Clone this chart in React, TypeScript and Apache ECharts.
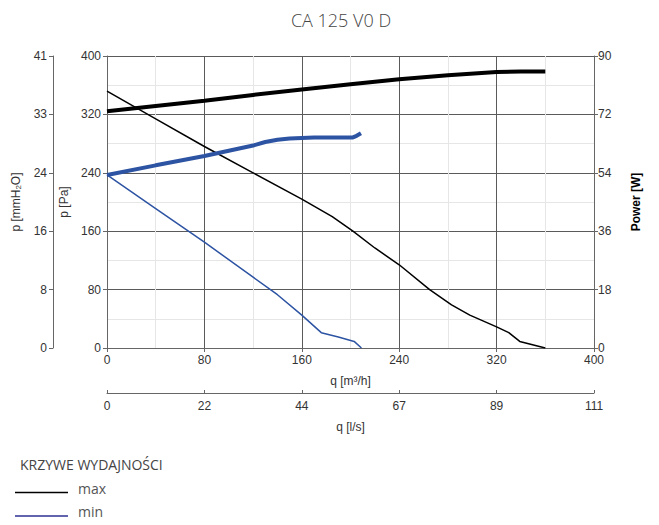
import React, { useEffect, useRef } from "react";
import * as echarts from "echarts";

const title = "CA 125 V0 D";
const legendTitle = "KRZYWE WYDAJNOŚCI";
const seriesNames = ["max", "min"];

// q [m3/h] vs p [Pa]
const maxPressure: [number, number][] = [
  [0, 352], [40, 314], [80, 276], [120, 240], [160, 204], [185, 180], [202, 160],
  [220, 137], [240, 114], [265, 80], [283, 59], [298, 45], [320, 29], [330, 21],
  [339, 9], [360, 0],
];
const minPressure: [number, number][] = [
  [0, 237], [40, 191], [80, 145], [120, 97], [140, 73], [160, 45], [176, 21],
  [190, 15], [203, 9], [209, 0],
];
// q [m3/h] vs Power [W]
const maxPower: [number, number][] = [
  [0, 73], [40, 74.6], [80, 76.2], [120, 78], [160, 79.7], [200, 81.3], [240, 82.8],
  [280, 84.1], [320, 85.1], [340, 85.2], [360, 85.2],
];
const minPower: [number, number][] = [
  [0, 53.3], [40, 56.3], [80, 59.2], [100, 60.8], [120, 62.4], [130, 63.5],
  [140, 64.2], [150, 64.6], [170, 64.9], [202, 64.9], [205, 65.4], [208.6, 66.2],
];

const mmH2OLabels = ["0", "8", "16", "24", "33", "41"];
const lsLabels = ["0", "22", "44", "67", "89", "111"];

const BLACK = "#000000";
const BLUE = "#2d53a3";
const LEGEND_BLUE = "#2e3192";
const AXIS = "#666666";
const MAJOR = "#5a5a5a";
const MINOR = "#e6e6e6";
const FONT = "'Liberation Sans', Arial, sans-serif";
const TFONT = "'Open Sans', 'Noto Sans', sans-serif";

export default function App() {
  const ref = useRef<HTMLDivElement>(null);
  useEffect(() => {
    if (!ref.current) return;
    const chart = echarts.init(ref.current, undefined, { renderer: "svg" });
    const labelStyle = { color: "#333", fontFamily: FONT, fontSize: 12 };
    const axisLine = { show: true, onZero: false, lineStyle: { color: AXIS } };
    chart.setOption({
      animation: false,
      backgroundColor: "#fff",
      title: {
        text: title,
        left: 336,
        top: 6,
        textAlign: "center",
        textStyle: { color: "#444", fontFamily: TFONT, fontSize: 18, fontWeight: 300 },
      },
      grid: { left: 107, right: 65, top: 56, bottom: 177 },
      xAxis: [
        {
          type: "value",
          min: 0,
          max: 400,
          interval: 80,
          position: "bottom",
          name: "q [m³/h]",
          nameLocation: "middle",
          nameGap: 27,
          nameTextStyle: labelStyle,
          axisLine,
          axisTick: { show: true, length: 4, lineStyle: { color: AXIS } },
          axisLabel: { ...labelStyle, margin: 6 },
          splitLine: { show: true, lineStyle: { color: MAJOR, width: 1 } },
          minorTick: { show: false, splitNumber: 2 },
          minorSplitLine: { show: true, lineStyle: { color: MINOR, width: 1 } },
        },
        {
          type: "value",
          min: 0,
          max: 400,
          interval: 80,
          position: "bottom",
          offset: 45,
          name: "q [l/s]",
          nameLocation: "middle",
          nameGap: 28,
          nameTextStyle: labelStyle,
          axisLine,
          axisTick: { show: true, inside: true, length: 3, lineStyle: { color: AXIS } },
          axisLabel: {
            ...labelStyle,
            margin: 7,
            formatter: (v: number) => lsLabels[Math.round(v / 80)] ?? "",
          },
          splitLine: { show: false },
        },
      ],
      yAxis: [
        {
          type: "value",
          min: 0,
          max: 400,
          interval: 80,
          position: "left",
          name: "p [Pa]",
          nameLocation: "middle",
          nameGap: 33,
          nameRotate: 90,
          nameTextStyle: labelStyle,
          axisLine,
          axisTick: { show: true, length: 4, lineStyle: { color: AXIS } },
          axisLabel: { ...labelStyle, margin: 6 },
          splitLine: { show: true, lineStyle: { color: MAJOR, width: 1 } },
          minorTick: { show: false, splitNumber: 2 },
          minorSplitLine: { show: true, lineStyle: { color: MINOR, width: 1 } },
        },
        {
          type: "value",
          min: 0,
          max: 400,
          interval: 80,
          position: "left",
          offset: 54,
          name: "p [mmH{sub|2}O]",
          nameLocation: "middle",
          nameGap: 22,
          nameRotate: 90,
          nameTextStyle: {
            ...labelStyle,
            rich: { sub: { fontSize: 8, fontFamily: FONT, color: "#333", verticalAlign: "bottom", padding: [6, 0, 0, 0] } },
          },
          axisLine,
          axisTick: { show: true, length: 4, lineStyle: { color: AXIS } },
          axisLabel: {
            ...labelStyle,
            margin: 6,
            formatter: (v: number) => mmH2OLabels[Math.round(v / 80)] ?? "",
          },
          splitLine: { show: false },
        },
        {
          type: "value",
          min: 0,
          max: 90,
          interval: 18,
          position: "right",
          name: "Power [W]",
          nameLocation: "middle",
          nameGap: 36,
          nameRotate: 90,
          nameTextStyle: { ...labelStyle, color: "#000", fontWeight: "bold" },
          axisLine,
          axisTick: { show: true, length: 4, lineStyle: { color: AXIS } },
          axisLabel: { ...labelStyle, margin: 4 },
          splitLine: { show: false },
        },
      ],
      series: [
        {
          name: seriesNames[0] + " p",
          type: "line",
          xAxisIndex: 0,
          yAxisIndex: 0,
          data: maxPressure,
          showSymbol: false,
          lineStyle: { color: BLACK, width: 1.5 },
        },
        {
          name: seriesNames[1] + " p",
          type: "line",
          xAxisIndex: 0,
          yAxisIndex: 0,
          data: minPressure,
          showSymbol: false,
          lineStyle: { color: BLUE, width: 1.5 },
        },
        {
          name: seriesNames[0] + " P",
          type: "line",
          xAxisIndex: 0,
          yAxisIndex: 2,
          data: maxPower,
          showSymbol: false,
          lineStyle: { color: BLACK, width: 4 },
        },
        {
          name: seriesNames[1] + " P",
          type: "line",
          xAxisIndex: 0,
          yAxisIndex: 2,
          data: minPower,
          showSymbol: false,
          lineStyle: { color: BLUE, width: 4 },
        },
      ],
      graphic: [
        {
          type: "text",
          left: 20,
          top: 457,
          style: { text: legendTitle, fill: "#444", font: `400 14px ${TFONT}` },
        },
        {
          type: "line",
          shape: { x1: 15, y1: 492.5, x2: 68, y2: 492.5 },
          style: { stroke: BLACK, lineWidth: 1.3 },
        },
        {
          type: "text",
          left: 78,
          top: 481,
          style: { text: seriesNames[0], fill: "#555", font: `400 14px ${TFONT}` },
        },
        {
          type: "line",
          shape: { x1: 15, y1: 516, x2: 68, y2: 516 },
          style: { stroke: LEGEND_BLUE, lineWidth: 1.3 },
        },
        {
          type: "text",
          left: 78,
          top: 504,
          style: { text: seriesNames[1], fill: "#555", font: `400 14px ${TFONT}` },
        },
      ],
    });
    return () => chart.dispose();
  }, []);
  return (
    <div
      ref={ref}
      style={{ position: "fixed", left: 0, top: 0, width: 659, height: 525 }}
    />
  );
}
